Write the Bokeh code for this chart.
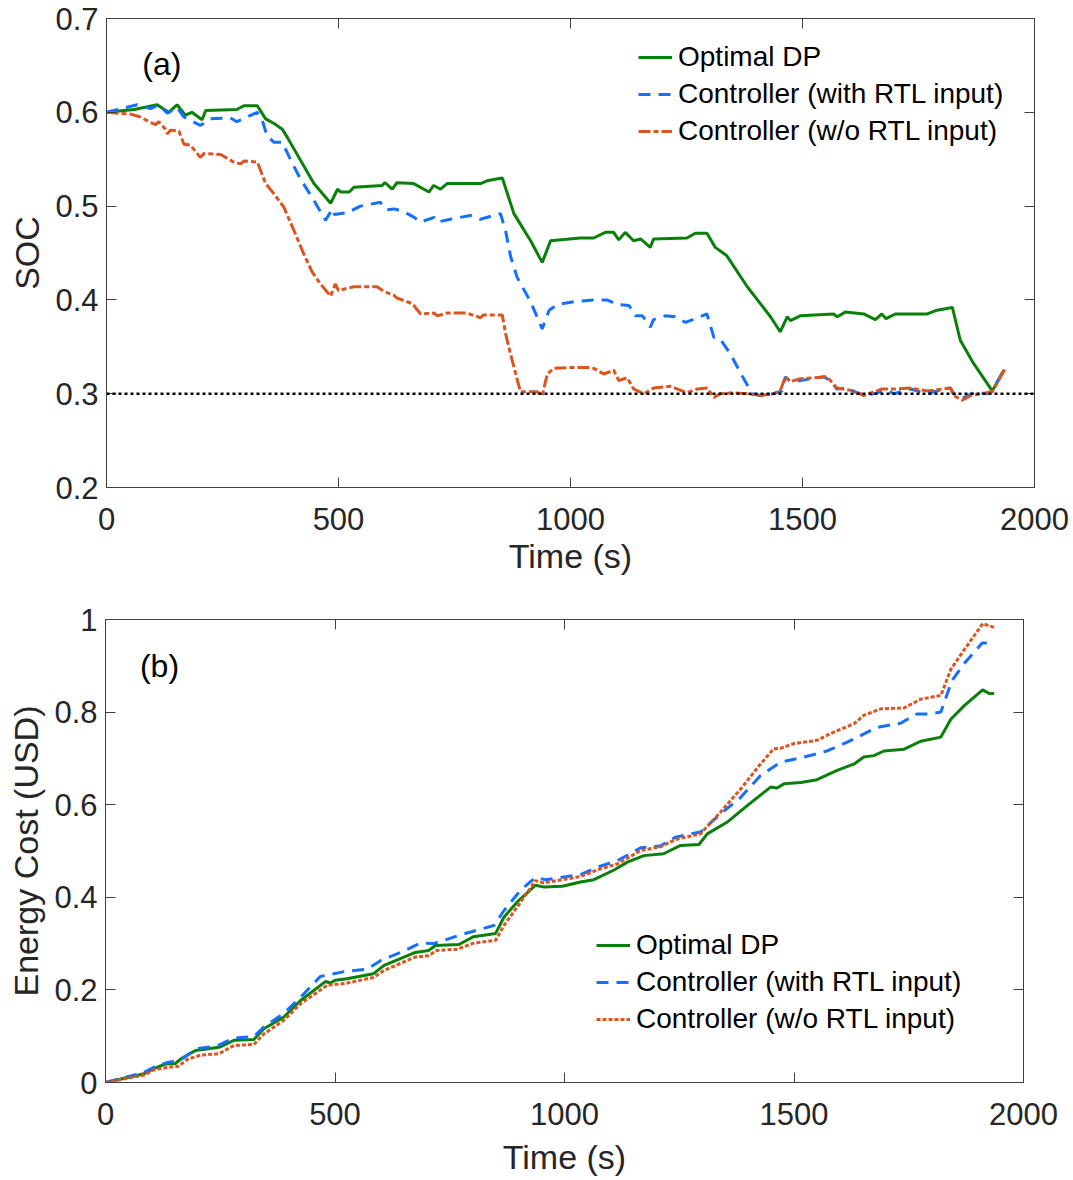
from bokeh.plotting import figure
from bokeh.models import (Range1d, LinearAxis, FixedTicker, Span, Label,
                          Legend, LegendItem, CustomJSTickFormatter)
from bokeh.embed import file_html
from bokeh.resources import INLINE

# ---- (a) state of charge -------------------------------------------------
soc_dp_t = [0, 60, 109, 134, 152, 170, 184, 206, 214, 281, 296, 325, 343, 361, 379, 390,
            447, 483, 498, 505, 523, 533, 594, 600, 616, 626, 662, 695, 705, 720, 734,
            806, 820, 853, 878, 914, 939, 957, 1021, 1050, 1075, 1093, 1104, 1118, 1136,
            1151, 1172, 1179, 1251, 1269, 1294, 1312, 1337, 1381, 1431, 1452, 1467, 1474,
            1495, 1567, 1575, 1592, 1632, 1657, 1671, 1680, 1700, 1769, 1790, 1823, 1840,
            1869, 1909, 1934]
soc_dp = [0.600, 0.603, 0.608, 0.600, 0.608, 0.597, 0.600, 0.592, 0.602, 0.603, 0.607,
          0.607, 0.593, 0.588, 0.582, 0.573, 0.524, 0.503, 0.518, 0.515, 0.515, 0.520,
          0.522, 0.525, 0.518, 0.525, 0.524, 0.515, 0.522, 0.518, 0.524, 0.524, 0.527,
          0.530, 0.492, 0.463, 0.440, 0.463, 0.466, 0.466, 0.472, 0.472, 0.464, 0.472,
          0.463, 0.465, 0.456, 0.465, 0.466, 0.471, 0.471, 0.456, 0.447, 0.414, 0.382,
          0.366, 0.382, 0.378, 0.383, 0.385, 0.382, 0.387, 0.385, 0.379, 0.385, 0.380,
          0.385, 0.385, 0.389, 0.392, 0.357, 0.332, 0.303, 0.325]

soc_rtl_t = [0, 66, 95, 113, 131, 152, 167, 202, 224, 267, 281, 325, 336, 346, 361, 379,
             397, 418, 447, 472, 487, 491, 519, 547, 590, 604, 620, 641, 663, 677, 706,
             713, 741, 784, 806, 849, 860, 871, 885, 914, 939, 954, 971, 1007, 1050, 1079,
             1101, 1126, 1140, 1155, 1172, 1179, 1204, 1225, 1248, 1294, 1309, 1323, 1345,
             1370, 1391, 1409, 1438, 1456, 1463, 1474, 1495, 1546, 1560, 1574, 1596, 1617,
             1639, 1668, 1682, 1697, 1733, 1769, 1805, 1819, 1826, 1844, 1869, 1898, 1909,
             1934]
soc_rtl = [0.600, 0.608, 0.604, 0.608, 0.599, 0.605, 0.595, 0.586, 0.593, 0.594, 0.590,
           0.600, 0.591, 0.575, 0.568, 0.568, 0.549, 0.529, 0.506, 0.485, 0.497, 0.491,
           0.493, 0.500, 0.504, 0.496, 0.497, 0.494, 0.488, 0.483, 0.488, 0.483, 0.486,
           0.490, 0.486, 0.492, 0.474, 0.446, 0.424, 0.398, 0.369, 0.389, 0.395, 0.398,
           0.400, 0.400, 0.395, 0.394, 0.383, 0.383, 0.371, 0.379, 0.383, 0.382, 0.376,
           0.385, 0.360, 0.358, 0.342, 0.319, 0.300, 0.298, 0.300, 0.303, 0.318, 0.313,
           0.314, 0.318, 0.314, 0.305, 0.306, 0.301, 0.298, 0.302, 0.303, 0.300, 0.305,
           0.300, 0.305, 0.306, 0.300, 0.295, 0.301, 0.300, 0.303, 0.325]

soc_nortl_t = [0, 52, 73, 95, 106, 113, 127, 131, 138, 156, 167, 181, 202, 210, 246, 274,
               289, 296, 325, 343, 361, 382, 404, 425, 443, 461, 483, 493, 500, 533, 583,
               598, 619, 626, 659, 677, 706, 713, 734, 777, 806, 813, 853, 860, 871, 892,
               928, 939, 950, 964, 1000, 1036, 1050, 1072, 1093, 1104, 1122, 1136, 1158,
               1179, 1215, 1251, 1273, 1294, 1309, 1323, 1352, 1381, 1409, 1438, 1452, 1463,
               1474, 1495, 1553, 1574, 1610, 1632, 1671, 1697, 1733, 1769, 1819, 1826, 1844,
               1862, 1909, 1937]
soc_nortl = [0.600, 0.598, 0.595, 0.589, 0.587, 0.590, 0.582, 0.577, 0.581, 0.580, 0.566,
             0.565, 0.552, 0.556, 0.555, 0.547, 0.545, 0.548, 0.547, 0.524, 0.513, 0.499,
             0.474, 0.449, 0.430, 0.417, 0.404, 0.417, 0.410, 0.414, 0.414, 0.409, 0.405,
             0.402, 0.396, 0.385, 0.386, 0.383, 0.386, 0.386, 0.381, 0.384, 0.384, 0.364,
             0.342, 0.302, 0.302, 0.298, 0.321, 0.327, 0.328, 0.328, 0.327, 0.321, 0.325,
             0.314, 0.317, 0.305, 0.300, 0.306, 0.308, 0.301, 0.305, 0.306, 0.296, 0.300,
             0.301, 0.300, 0.298, 0.300, 0.303, 0.318, 0.313, 0.316, 0.318, 0.306, 0.303,
             0.298, 0.305, 0.305, 0.306, 0.303, 0.306, 0.298, 0.293, 0.298, 0.302, 0.327]

soc_min = 0.3

# ---- (b) cumulative energy cost ------------------------------------------
cost_dp_t = [0, 84, 105, 131, 152, 167, 196, 247, 280, 323, 345, 388, 425, 479, 490, 501,
             526, 584, 607, 675, 704, 719, 770, 802, 850, 868, 897, 937, 955, 995, 1035,
             1064, 1108, 1137, 1173, 1216, 1253, 1293, 1311, 1354, 1398, 1449, 1463, 1478,
             1515, 1550, 1594, 1631, 1652, 1674, 1696, 1740, 1776, 1820, 1842, 1871, 1911,
             1926, 1936]
cost_dp = [0.0, 0.019, 0.030, 0.040, 0.041, 0.053, 0.069, 0.076, 0.091, 0.093, 0.116,
           0.141, 0.177, 0.218, 0.215, 0.221, 0.224, 0.235, 0.253, 0.281, 0.285, 0.296,
           0.298, 0.315, 0.322, 0.357, 0.390, 0.426, 0.422, 0.424, 0.433, 0.438, 0.459,
           0.476, 0.490, 0.494, 0.512, 0.514, 0.537, 0.562, 0.598, 0.638, 0.636, 0.645,
           0.648, 0.654, 0.674, 0.688, 0.703, 0.706, 0.716, 0.720, 0.737, 0.746, 0.785,
           0.814, 0.848, 0.840, 0.840]

cost_rtl_t = [0, 84, 105, 137, 159, 178, 199, 243, 280, 323, 345, 388, 425, 468, 523, 570,
              599, 643, 686, 715, 781, 846, 868, 904, 937, 959, 1035, 1071, 1115, 1166,
              1209, 1242, 1296, 1340, 1384, 1427, 1471, 1522, 1572, 1616, 1681, 1732, 1768,
              1797, 1820, 1844, 1870, 1910, 1936]
cost_rtl = [0.0, 0.022, 0.033, 0.044, 0.046, 0.059, 0.073, 0.079, 0.096, 0.099, 0.120,
            0.149, 0.184, 0.229, 0.240, 0.245, 0.263, 0.281, 0.301, 0.300, 0.321, 0.339,
            0.371, 0.415, 0.443, 0.438, 0.449, 0.465, 0.479, 0.507, 0.511, 0.530, 0.541,
            0.580, 0.616, 0.663, 0.692, 0.703, 0.716, 0.735, 0.767, 0.776, 0.796, 0.796,
            0.800, 0.868, 0.904, 0.949, 0.949]

cost_nortl_t = [0, 84, 105, 137, 159, 178, 207, 247, 280, 323, 345, 388, 425, 483, 523, 584,
                607, 675, 704, 722, 766, 802, 850, 868, 897, 937, 955, 1035, 1071, 1115,
                1166, 1209, 1242, 1296, 1340, 1384, 1427, 1456, 1471, 1500, 1550, 1587,
                1631, 1652, 1689, 1740, 1776, 1820, 1842, 1867, 1911, 1936]
cost_nortl = [0.0, 0.016, 0.027, 0.033, 0.035, 0.050, 0.059, 0.062, 0.080, 0.082, 0.105,
              0.134, 0.170, 0.210, 0.214, 0.227, 0.242, 0.271, 0.274, 0.285, 0.288, 0.301,
              0.307, 0.339, 0.379, 0.436, 0.431, 0.445, 0.459, 0.472, 0.501, 0.509, 0.525,
              0.537, 0.584, 0.634, 0.688, 0.721, 0.722, 0.732, 0.739, 0.757, 0.775, 0.793,
              0.807, 0.809, 0.828, 0.836, 0.893, 0.929, 0.991, 0.983]

series_names = ["Optimal DP", "Controller (with RTL input)", "Controller (w/o RTL input)"]
x_ticks = [0, 500, 1000, 1500, 2000]
soc_ticks = [0.2, 0.3, 0.4, 0.5, 0.6, 0.7]
cost_ticks = [0, 0.2, 0.4, 0.6, 0.8, 1]

GREEN = "#0a800a"
BLUE = "#1670ff"
ORANGE = "#dc5420"
AXIS_COL = "#404040"
TXT_COL = "#262626"
FONT = "Liberation Sans"
LW = 3


def style_axes(p, xt, yt, x_standoff, xlabel_standoff):
    p.xgrid.visible = False
    p.ygrid.visible = False
    p.outline_line_color = AXIS_COL
    p.outline_line_width = 1
    for ax in (p.xaxis[0], p.yaxis[0]):
        ax.axis_line_color = AXIS_COL
        ax.major_tick_line_color = AXIS_COL
        ax.major_tick_in = 10
        ax.major_tick_out = 0
        ax.minor_tick_line_color = None
        ax.major_label_text_font = FONT
        ax.major_label_text_font_size = "31px"
        ax.major_label_text_color = TXT_COL
        ax.axis_label_text_font = FONT
        ax.axis_label_text_font_size = "34px"
        ax.axis_label_text_font_style = "normal"
        ax.axis_label_text_color = TXT_COL
    p.xaxis[0].ticker = FixedTicker(ticks=xt)
    p.yaxis[0].ticker = FixedTicker(ticks=yt)
    p.xaxis[0].major_label_standoff = x_standoff
    p.xaxis[0].axis_label_standoff = xlabel_standoff
    p.yaxis[0].major_label_standoff = 8
    p.yaxis[0].axis_label_standoff = 6
    # box ticks on the opposite sides, without labels
    blank = CustomJSTickFormatter(code="return ''")
    for loc, t in (("above", xt), ("right", yt)):
        ax = LinearAxis(ticker=FixedTicker(ticks=t), formatter=blank,
                        major_tick_in=10, major_tick_out=0,
                        minor_tick_line_color=None, axis_line_color=AXIS_COL,
                        major_tick_line_color=AXIS_COL, major_label_standoff=0,
                        axis_label_standoff=0, major_label_text_font_size="1px")
        p.add_layout(ax, loc)


def add_legend(p, renderers, loc):
    items = [LegendItem(label=n, renderers=[r]) for n, r in zip(series_names, renderers)]
    leg = Legend(items=items, location=loc, padding=0, margin=0, spacing=5,
                 glyph_width=34, glyph_height=30, label_height=30, label_standoff=6,
                 label_text_font=FONT, label_text_font_size="28px",
                 label_text_color="black", border_line_alpha=0,
                 background_fill_alpha=0)
    p.add_layout(leg, "center")


# ---- top panel ----
p1 = figure(width=1073, height=595, output_backend="svg", toolbar_location=None,
            x_range=Range1d(0, 2000), y_range=Range1d(0.2, 0.7),
            x_axis_label="Time (s)", y_axis_label="SOC",
            min_border_left=106, min_border_right=39, min_border_top=18,
            min_border_bottom=108)
style_axes(p1, x_ticks, soc_ticks, 20, 4)
p1.add_layout(Span(location=soc_min, dimension="width", line_color="black",
                   line_width=2.5, line_dash="3 3"))
r1 = p1.line(soc_dp_t, soc_dp, line_color=GREEN, line_width=LW)
r2 = p1.line(soc_rtl_t, soc_rtl, line_color=BLUE, line_width=LW, line_dash="12 8")
r3 = p1.line(soc_nortl_t, soc_nortl, line_color=ORANGE, line_width=LW,
             line_dash="12 3 5 3")
add_legend(p1, [r1, r2, r3], (532, 340))
p1.add_layout(Label(x=77, y=0.651, text="(a)", text_font=FONT, text_font_size="32px",
                    text_baseline="middle", text_color="black"))

# ---- bottom panel ----
p2 = figure(width=1073, height=585, output_backend="svg", toolbar_location=None,
            x_range=Range1d(0, 2000), y_range=Range1d(0, 1),
            x_axis_label="Time (s)", y_axis_label="Energy Cost (USD)",
            min_border_left=105, min_border_right=50, min_border_top=24,
            min_border_bottom=98)
style_axes(p2, x_ticks, cost_ticks, 20, 10)
q1 = p2.line(cost_dp_t, cost_dp, line_color=GREEN, line_width=LW)
q2 = p2.line(cost_rtl_t, cost_rtl, line_color=BLUE, line_width=LW, line_dash="12 8")
q3 = p2.line(cost_nortl_t, cost_nortl, line_color=ORANGE, line_width=LW,
             line_dash="4 2")
add_legend(p2, [q1, q2, q3], (491, 47))
p2.add_layout(Label(x=75, y=0.90, text="(b)", text_font=FONT, text_font_size="32px",
                    text_baseline="middle", text_color="black"))

# two independent roots stacked on the page, so each frame keeps its own borders
open("out.html", "w").write(file_html([p1, p2], INLINE))
